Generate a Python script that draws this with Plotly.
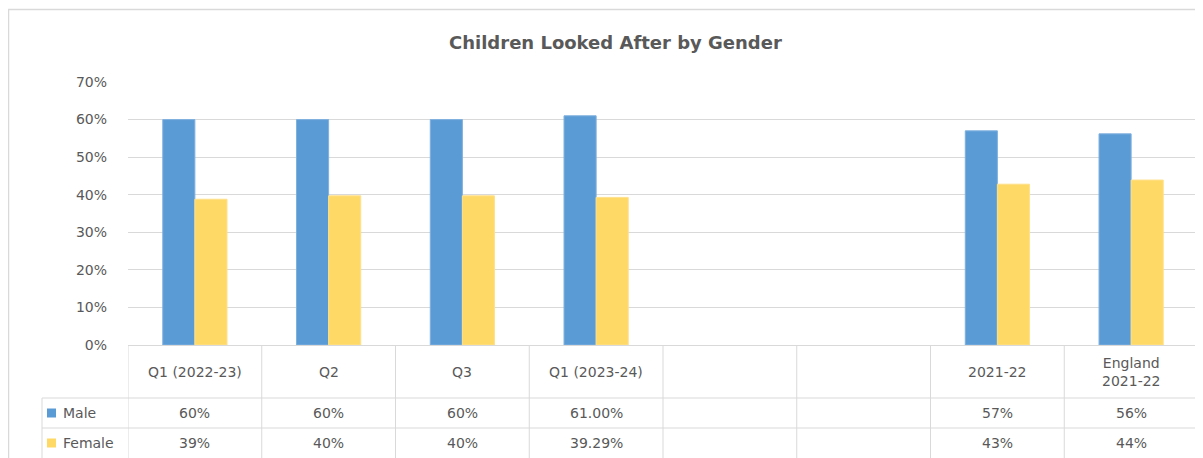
import plotly.graph_objects as go

categories = ["Q1 (2022-23)", "Q2", "Q3", "Q1 (2023-24)", "", " ", "2021-22", "England<br>2021-22"]
male = [60, 60, 60, 61, None, None, 57, 56.2]
female = [38.8, 39.7, 39.7, 39.29, None, None, 42.8, 43.9]
male_labels = ["60%", "60%", "60%", "61.00%", "", "", "57%", "56%"]
female_labels = ["39%", "40%", "40%", "39.29%", "", "", "43%", "44%"]
series_names = ["Male", "Female"]
y_ticks = [0, 10, 20, 30, 40, 50, 60, 70]

BLUE = "#5B9BD5"
YELLOW = "#FFD966"
GRID = "#D9D9D9"
TXT = "#595959"
FONT = "DejaVu Sans"

OFF = 8  # page body margin
W, H = 1203 - OFF, 458 - OFF
L, R, T, B = 128 - OFF, 5, 82 - OFF, 458 - 345
PH = H - T - B
PW = W - L - R

def py(p):
    return (H - B - (p - OFF)) / PH

def px(p):
    return ((p - OFF) - L) / PW

fig = go.Figure()
fig.add_trace(go.Bar(x=list(range(len(categories))), y=male, name=series_names[0],
                     marker=dict(color=BLUE, line=dict(color="#7FB0DE", width=1))))
fig.add_trace(go.Bar(x=list(range(len(categories))), y=female, name=series_names[1],
                     marker=dict(color=YELLOW, line=dict(color="#FFE08A", width=1))))

n = len(categories)
shapes = []
# outer chart border
shapes.append(dict(type="rect", xref="paper", yref="paper", x0=px(8.5), x1=px(1215), y0=py(470), y1=py(9.5),
                   line=dict(color=GRID, width=1.5), fillcolor="rgba(0,0,0,0)", layer="below"))
# table lines
for i in range(n + 1):
    xv = i - 0.5
    shapes.append(dict(type="line", xref="x", yref="paper", x0=xv, x1=xv, y0=py(345), y1=py(470),
                       line=dict(color=GRID, width=1)))
shapes.append(dict(type="line", xref="paper", yref="paper", x0=px(42), x1=px(42), y0=py(398), y1=py(470),
                   line=dict(color=GRID, width=1)))
for yy in (398, 428):
    shapes.append(dict(type="line", xref="paper", yref="paper", x0=px(42), x1=1,
                       y0=py(yy), y1=py(yy), line=dict(color=GRID, width=1)))
shapes.append(dict(type="line", xref="paper", yref="paper", x0=0, x1=1, y0=py(345.5), y1=py(345.5),
                   line=dict(color=GRID, width=1)))
# legend keys
for yy, col in [(413, BLUE), (443, YELLOW)]:
    shapes.append(dict(type="rect", xref="paper", yref="paper", x0=px(47), x1=px(56), y0=py(yy + 4.5), y1=py(yy - 4.5),
                       fillcolor=col, line=dict(width=0)))

tf = dict(size=14, color=TXT, family=FONT)
ann = []
ann.append(dict(text="<b>Children Looked After by Gender</b>", xref="paper", yref="paper", x=px(615), y=py(43),
                showarrow=False, font=dict(size=18, color=TXT, family=FONT), xanchor="center", yanchor="middle"))
for i, c in enumerate(categories):
    ann.append(dict(text=c, xref="x", yref="paper", x=i, y=py(371.5), showarrow=False,
                    font=tf, xanchor="center", yanchor="middle"))
    ann.append(dict(text=male_labels[i], xref="x", yref="paper", x=i, y=py(413), showarrow=False,
                    font=tf, xanchor="center", yanchor="middle"))
    ann.append(dict(text=female_labels[i], xref="x", yref="paper", x=i, y=py(443), showarrow=False,
                    font=tf, xanchor="center", yanchor="middle"))
for yy, nm in [(413, series_names[0]), (443, series_names[1])]:
    ann.append(dict(text=nm, xref="paper", yref="paper", x=px(61), y=py(yy), showarrow=False,
                    font=tf, xanchor="left", yanchor="middle"))

fig.update_layout(
    width=W, height=H,
    margin=dict(l=L, r=R, t=T, b=B, pad=0),
    paper_bgcolor="white", plot_bgcolor="white",
    barmode="group", bargap=0.52, bargroupgap=0,
    showlegend=False,
    shapes=shapes, annotations=ann,
    font=dict(family=FONT, color=TXT, size=14),
)
fig.update_xaxes(range=[-0.5, n - 0.5], showticklabels=False, showgrid=False, zeroline=False,
                 showline=False, fixedrange=True)
fig.update_yaxes(range=[0, 70], tickvals=y_ticks, ticktext=[f"{v}%" for v in y_ticks],
                 showgrid=True, gridcolor=GRID, gridwidth=1, zeroline=False, showline=False,
                 ticks="", ticklabelstandoff=20, tickfont=tf)

fig.write_html("out.html")
